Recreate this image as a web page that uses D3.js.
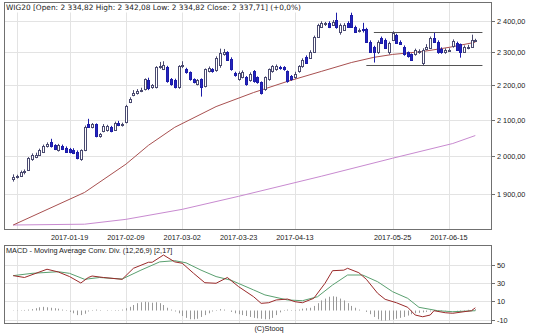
<!DOCTYPE html>
<html><head><meta charset="utf-8">
<script src="https://cdn.jsdelivr.net/npm/d3@7"></script>
<style>
html,body{margin:0;padding:0;background:#fff;}
svg{display:block;font-family:"Liberation Sans",Arial,sans-serif;}
</style></head><body>
<svg id="chart" width="536" height="335"></svg>
<script>
// WIG20 daily session dates
const dates = [
"2016-12-28","2016-12-29","2016-12-30",
"2017-01-02","2017-01-03","2017-01-04","2017-01-05","2017-01-09","2017-01-10","2017-01-11","2017-01-12","2017-01-13",
"2017-01-16","2017-01-17","2017-01-18","2017-01-19","2017-01-20","2017-01-23","2017-01-24","2017-01-25","2017-01-26","2017-01-27","2017-01-30","2017-01-31",
"2017-02-01","2017-02-02","2017-02-03","2017-02-06","2017-02-07","2017-02-08","2017-02-09","2017-02-10","2017-02-13","2017-02-14","2017-02-15","2017-02-16","2017-02-17",
"2017-02-20","2017-02-21","2017-02-22","2017-02-23","2017-02-24","2017-02-27","2017-02-28",
"2017-03-01","2017-03-02","2017-03-03","2017-03-06","2017-03-07","2017-03-08","2017-03-09","2017-03-10","2017-03-13","2017-03-14","2017-03-15","2017-03-16","2017-03-17",
"2017-03-20","2017-03-21","2017-03-22","2017-03-23","2017-03-24","2017-03-27","2017-03-28","2017-03-29","2017-03-30","2017-03-31",
"2017-04-03","2017-04-04","2017-04-05","2017-04-06","2017-04-07","2017-04-10","2017-04-11","2017-04-12","2017-04-13","2017-04-18","2017-04-19","2017-04-20","2017-04-21",
"2017-04-24","2017-04-25","2017-04-26","2017-04-27","2017-04-28",
"2017-05-02","2017-05-04","2017-05-05","2017-05-08","2017-05-09","2017-05-10","2017-05-11","2017-05-12","2017-05-15","2017-05-16","2017-05-17","2017-05-18","2017-05-19",
"2017-05-22","2017-05-23","2017-05-24","2017-05-25","2017-05-26","2017-05-29","2017-05-30","2017-05-31",
"2017-06-01","2017-06-02","2017-06-05","2017-06-06","2017-06-07","2017-06-08","2017-06-09","2017-06-12","2017-06-13","2017-06-14","2017-06-15","2017-06-16",
"2017-06-19","2017-06-20","2017-06-21","2017-06-22","2017-06-23","2017-06-26"];

const open = [1938,1942,1946,1955,1962,1990,1997,2002,2010,2026,2036,2028,2015,2027,2022,2018,2016,2011,1992,2015,
2086,2079,2086,2054,2068,2070,2079,2071,2091,2084,2092,2150,2171,2177,2183,2187,2214,2193,2193,2254,
2248,2254,2217,2215,2193,2256,2247,2238,2217,2202,2217,2196,2242,2247,2244,2262,2293,2300,2280,2235,
2217,2224,2224,2214,2241,2223,2208,2187,2217,2241,2247,2253,2253,2241,2226,2223,2241,2256,2286,2283,
2302,2349,2380,2388,2394,2387,2403,2365,2371,2394,2420,2381,2366,2372,2374,2333,2317,2299,2345,2339,
2302,2339,2355,2333,2317,2299,2293,2293,2299,2268,2311,2314,2345,2333,2311,2299,2305,2318,2330,2324,
2302,2313,2317,2334.82];
const high = [1950,1949,1960,1963,1996,2006,2008,2019,2030,2036,2046,2031,2032,2030,2025,2021,2020,2014,2017,2083,
2102,2090,2089,2062,2087,2085,2082,2094,2096,2091,2142,2164,2185,2188,2192,2220,2222,2203,2257,2270,
2272,2258,2221,2219,2260,2272,2252,2241,2220,2218,2220,2250,2256,2251,2287,2311,2310,2303,2284,2240,
2241,2244,2227,2238,2245,2226,2211,2226,2250,2260,2262,2258,2257,2244,2230,2240,2260,2281,2290,2306,
2352,2390,2398,2396,2398,2402,2426,2391,2392,2398,2426,2384,2375,2393,2377,2337,2320,2337,2349,2343,
2333,2366,2358,2337,2321,2302,2296,2311,2309,2312,2325,2349,2361,2337,2315,2312,2312,2340,2333,2327,
2321,2323,2355,2342.08];
const low = [1931,1939,1944,1950,1960,1986,1993,1999,2007,2022,2022,2015,2011,2015,2008,2006,2004,1990,1986,2012,
2077,2075,2050,2049,2064,2066,2064,2068,2081,2080,2089,2147,2167,2172,2179,2184,2185,2189,2190,2249,
2245,2207,2198,2190,2189,2251,2234,2213,2205,2199,2166,2193,2238,2237,2240,2252,2289,2273,2243,2225,
2213,2220,2198,2210,2207,2204,2172,2183,2213,2237,2243,2246,2243,2207,2213,2219,2237,2252,2264,2279,
2298,2345,2377,2383,2376,2383,2374,2355,2368,2377,2378,2361,2362,2362,2329,2298,2268,2295,2326,2310,
2293,2335,2326,2323,2289,2283,2273,2289,2295,2259,2306,2310,2329,2295,2295,2295,2301,2314,2304,2283,
2298,2309,2313,2334.82];
const close = [1944,1945,1956,1958,1994,2002,2003,2015,2026,2033,2025,2018,2028,2018,2011,2009,2007,1993,2014,2079,
2080,2086,2054,2058,2083,2081,2068,2090,2084,2087,2139,2160,2178,2183,2186,2217,2190,2200,2253,2258,
2262,2211,2202,2193,2256,2260,2238,2217,2208,2214,2193,2247,2252,2241,2283,2298,2300,2277,2247,2231,
2235,2240,2202,2232,2211,2208,2178,2223,2247,2256,2256,2250,2247,2211,2217,2232,2256,2277,2268,2302,
2349,2387,2393,2391,2380,2397,2378,2387,2387,2381,2381,2365,2371,2369,2333,2302,2299,2333,2330,2314,
2330,2361,2330,2327,2293,2287,2277,2308,2305,2308,2315,2345,2333,2299,2299,2308,2308,2336,2308,2299,
2317,2316,2337,2337.71];

// moving averages (50 and 200 sessions), read at selected sessions
const ma50Dates  = ["2016-12-28","2017-01-25","2017-02-09","2017-02-17","2017-02-28","2017-03-15","2017-03-29","2017-04-11","2017-04-26","2017-05-10","2017-05-18","2017-05-25","2017-06-06","2017-06-15","2017-06-26"];
const ma50Values = [1821,1903,1977,2028,2078,2137,2178,2211,2241,2268,2284,2293,2302,2315,2331];
const ma200Dates  = ["2016-12-28","2017-01-25","2017-02-09","2017-03-02","2017-03-23","2017-04-26","2017-05-25","2017-06-16","2017-06-26"];
const ma200Values = [1821,1823,1835,1860,1893,1945,1993,2033,2055];

// MACD (12,26,9)
const macdDates = ["2016-12-28","2017-01-02","2017-01-11","2017-01-16","2017-01-19","2017-01-24","2017-01-26","2017-01-27","2017-02-01","2017-02-08","2017-02-13","2017-02-17","2017-02-20","2017-02-23","2017-02-28","2017-03-02","2017-03-07","2017-03-10","2017-03-15","2017-03-20","2017-03-23","2017-03-29","2017-03-31","2017-04-04","2017-04-06","2017-04-11","2017-04-13","2017-04-19","2017-04-24","2017-04-27","2017-05-02","2017-05-08","2017-05-09","2017-05-12","2017-05-16","2017-05-19","2017-05-23","2017-05-26","2017-05-31","2017-06-02","2017-06-06","2017-06-08","2017-06-09","2017-06-14","2017-06-16","2017-06-21","2017-06-23","2017-06-26"];
const macdValues = [38,36,45,42,37,30,36,37.6,36,34,46,52.6,52.6,60.5,53,51.5,40.6,30.3,29.7,36,26,15,7.8,8.5,11.5,12.5,9.6,8.5,13.3,29.7,43.4,44,46,41.2,34,18.8,12.2,8.5,3.5,-4.9,-6.8,-4.9,-0.2,-2.4,-3,-1.3,-0.2,3];
const signalDates = ["2016-12-28","2017-01-04","2017-01-16","2017-01-19","2017-01-25","2017-01-31","2017-02-08","2017-02-15","2017-02-22","2017-02-28","2017-03-03","2017-03-09","2017-03-15","2017-03-21","2017-03-29","2017-04-03","2017-04-11","2017-04-19","2017-04-25","2017-05-02","2017-05-09","2017-05-15","2017-05-19","2017-05-25","2017-05-31","2017-06-05","2017-06-12","2017-06-16","2017-06-26"];
const signalValues = [38,40.5,42.3,40.5,34,36,34.3,44,53,54.3,52,44,37,33,22.4,17,11.5,10.7,15,27.8,38.7,38.7,31.4,20.5,13.3,3.5,-0.2,-1.3,-0.2];
const histValues = [0.3,-0.3,0.4,0.6,1,1.5,2.5,3.5,4,3.5,3,2.5,2,1,0.5,-1.5,-3,-5,-5,-3.5,
-1,0.5,1,0.5,0,-0.5,0.3,0.5,0.5,1,2.5,4,6,8,9,9.5,9,8.5,9,8,
6,3,1,-1,-3,-6,-8,-9.5,-9.5,-9,-7,-5,-3,-1,0.5,1.5,1,0,-1.5,-3,
-4,-5,-6,-7,-8,-8.5,-9,-9.5,-9.5,-8,-5,-2,0.5,1,0.5,0.5,1,2,2.5,3,
5,8,11,13,15,15.5,15,13,11,8,5,3,1,0,-1.5,-4,-7,-9.5,-11,-11,
-10.5,-10,-9,-8,-7,-5.5,-4,-3,-2.5,-2,-1.5,-1,-0.5,-0.5,-0.5,-0.3,0,0,0.3,0.5,
0.5,0.8,1,1.5];

const priceTicks = [1900,2000,2100,2200,2300,2400];
const macdTicks = [50,30,10,-10];
const gridDates = ["2016-12-29","2017-01-19","2017-02-09","2017-03-02","2017-03-23","2017-04-13","2017-05-25","2017-06-15"];
const labelDates = ["2017-01-19","2017-02-09","2017-03-02","2017-03-23","2017-04-13","2017-05-25","2017-06-15"];
// horizontal support / resistance levels drawn on the price panel
const levelValues = [2365, 2262];
const levelStarts = ["2017-05-18","2017-05-16"];

const svg = d3.select("#chart");
const idx = new Map(dates.map((d,i)=>[d,i]));
const N = dates.length;

const P = {left:4, right:491, top:3, bottom:229.5};
const M = {top:245, bottom:323};

const x = d3.scaleLinear().domain([0, N-1]).range([13.2, 475.3]);
const y = d3.scaleLog().domain([1810, 2458]).range([P.bottom, P.top]);
const ym = d3.scaleLinear().domain([-13.6, 71.4]).range([M.bottom, M.top]);

const pl = d3.formatLocale({decimal:",", thousands:"\u00a0", grouping:[3], currency:["",""]});
const fmt = pl.format(",.2f");
const px = v => Math.round(v) + 0.5;

const gridC = "#e3e3e3", frameC = "#707070", textC = "#222";

// grids
const g = svg.append("g");
for (const d of gridDates) {
  const xx = px(x(idx.get(d)));
  g.append("line").attr("x1",xx).attr("x2",xx).attr("y1",P.top).attr("y2",P.bottom).attr("stroke",gridC);
  g.append("line").attr("x1",xx).attr("x2",xx).attr("y1",M.top).attr("y2",M.bottom).attr("stroke",gridC);
}
for (const t of priceTicks) {
  const yy = px(y(t));
  g.append("line").attr("x1",P.left).attr("x2",P.right).attr("y1",yy).attr("y2",yy).attr("stroke",gridC);
}
for (const t of macdTicks) {
  const yy = px(ym(t));
  g.append("line").attr("x1",P.left).attr("x2",P.right).attr("y1",yy).attr("y2",yy).attr("stroke",gridC);
}

// moving averages
const seriesLine = (ds, vs, ys) => d3.line().x((d,i)=>x(idx.get(ds[i]))).y((d,i)=>ys(vs[i]))(vs);
svg.append("path").attr("d", seriesLine(ma200Dates, ma200Values, y)).attr("fill","none").attr("stroke","#c88ad0").attr("stroke-width",1);
svg.append("path").attr("d", seriesLine(ma50Dates, ma50Values, y)).attr("fill","none").attr("stroke","#a85050").attr("stroke-width",1);

// levels
levelValues.forEach((v,k)=>{
  const yy = px(y(v));
  svg.append("line").attr("x1",x(idx.get(levelStarts[k]))).attr("x2",x(N-1+1.9)).attr("y1",yy).attr("y2",yy)
    .attr("stroke","#555").attr("stroke-width",1);
});

// candles
const cg = svg.append("g");
for (let i=0;i<N;i++){
  const cx = px(x(i));
  const up = close[i] >= open[i];
  cg.append("line").attr("x1",cx).attr("x2",cx).attr("y1",y(high[i])).attr("y2",y(low[i]))
    .attr("stroke", up ? "#4a4a70" : "#1c1ca8").attr("stroke-width",1);
  const top = Math.round(y(Math.max(open[i],close[i])));
  const bot = Math.round(y(Math.min(open[i],close[i])));
  cg.append("rect").attr("x",cx-1).attr("y",top+0.5).attr("width",2).attr("height",Math.max(1,bot-top))
    .attr("fill", up ? "#fff" : "#2424c0").attr("stroke", up ? "#4a4a70" : "#1c1ca8").attr("stroke-width",1);
}

// MACD histogram and lines
const hg = svg.append("g");
histValues.forEach((v,i)=>{
  const xx = px(x(i));
  hg.append("line").attr("x1",xx).attr("x2",xx).attr("y1",ym(0)).attr("y2",ym(v)).attr("stroke","#999").attr("stroke-width",1);
});
svg.append("path").attr("d", seriesLine(signalDates, signalValues, ym)).attr("fill","none").attr("stroke","#5aa070").attr("stroke-width",1);
svg.append("path").attr("d", seriesLine(macdDates, macdValues, ym)).attr("fill","none").attr("stroke","#9a2a2a").attr("stroke-width",1);

// titles (price title sits on a white plate over the grid)
const L = N-1;
const prev = close[L-1];
const chg = (close[L]/prev - 1)*100;
const chgTxt = (chg >= 0 ? "+" : "") + pl.format(".1f")(chg) + "%";
const title = svg.append("text").attr("x",6).attr("y",10).attr("font-size",7.4)
  .attr("font-family","'DejaVu Sans',Verdana,sans-serif").attr("fill",textC)
  .text(`WIG20 [Open: ${fmt(open[L])}  High: ${fmt(high[L])}  Low: ${fmt(low[L])}  Close: ${fmt(close[L])}] (${chgTxt})`);
const tb = title.node().getBBox();
svg.insert("rect", "text").attr("x",P.left+1).attr("y",P.top).attr("width",tb.x+tb.width-P.left+1).attr("height",9.5).attr("fill","#fff");

// frames
svg.append("rect").attr("x",P.left+0.5).attr("y",P.top-0.5).attr("width",P.right-P.left).attr("height",P.bottom-P.top+0.5)
  .attr("fill","none").attr("stroke",frameC);
svg.append("rect").attr("x",P.left+0.5).attr("y",M.top+0.5).attr("width",P.right-P.left).attr("height",M.bottom-M.top)
  .attr("fill","none").attr("stroke",frameC);

// axes labels
const fs = 7.3;
for (const t of priceTicks) {
  const yy = px(y(t));
  svg.append("line").attr("x1",P.right+0.5).attr("x2",P.right+4).attr("y1",yy).attr("y2",yy).attr("stroke",frameC);
  svg.append("text").attr("x",497).attr("y",yy).attr("dy","0.35em").attr("font-size",fs).attr("fill",textC).text(fmt(t));
}
for (const t of macdTicks) {
  const yy = px(ym(t));
  svg.append("line").attr("x1",P.right+0.5).attr("x2",P.right+4).attr("y1",yy).attr("y2",yy).attr("stroke",frameC);
  svg.append("text").attr("x",497).attr("y",yy).attr("dy","0.35em").attr("font-size",fs).attr("fill",textC).text(t);
}
for (const d of labelDates) {
  svg.append("text").attr("x",x(idx.get(d))).attr("y",240).attr("text-anchor","middle").attr("font-size",fs).attr("fill",textC).text(d);
}
svg.append("text").attr("x",6).attr("y",253).attr("font-size",7.3).attr("fill",textC)
  .text("MACD - Moving Average Conv. Div. (12,26,9) [2,17]");
svg.append("text").attr("x",269).attr("y",331).attr("text-anchor","middle").attr("font-size",7.3).attr("fill",textC).text("(C)Stooq");
</script>
</body></html>
